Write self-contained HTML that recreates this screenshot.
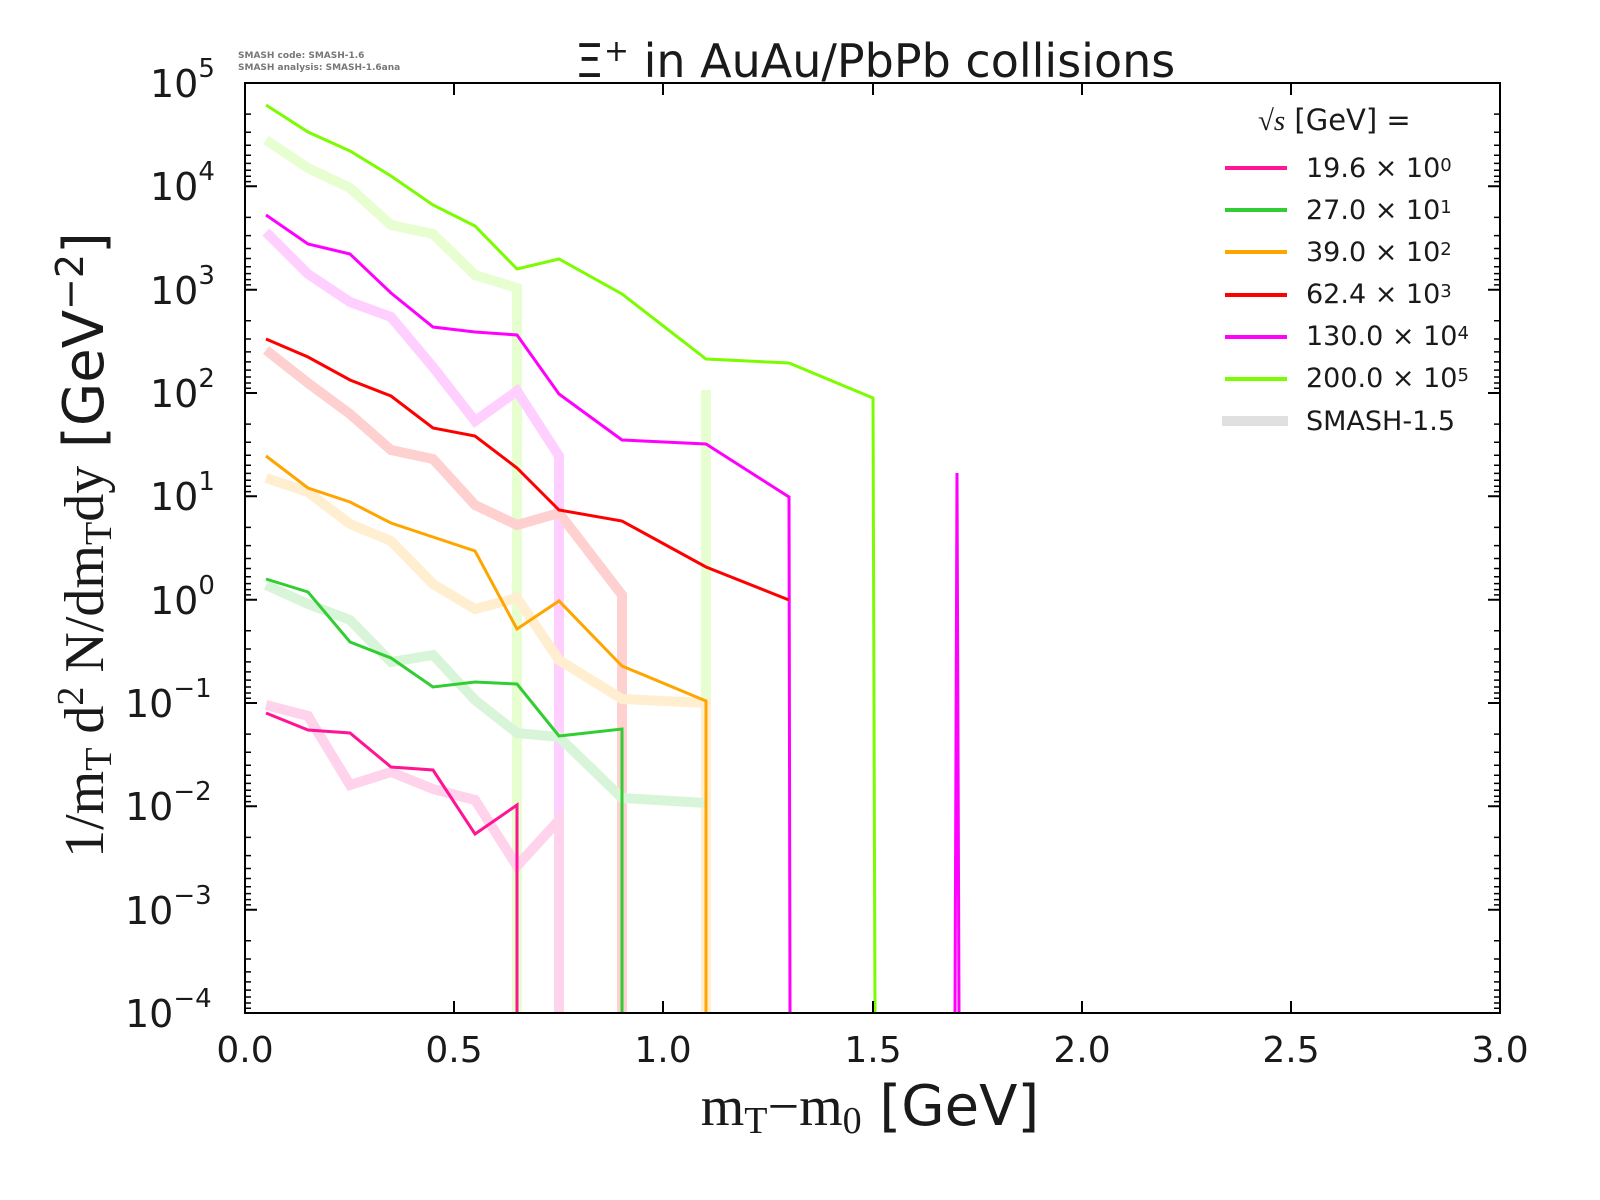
<!DOCTYPE html>
<html><head><meta charset="utf-8"><style>
html,body{margin:0;padding:0;background:#fff;}
svg{display:block;}
text{font-family:"DejaVu Sans","Liberation Sans",sans-serif;fill:#1a1a1a;}
</style></head><body>
<svg width="1600" height="1200" viewBox="0 0 1600 1200" xmlns="http://www.w3.org/2000/svg">
<rect width="1600" height="1200" fill="#fff"/>
<defs><clipPath id="c"><rect x="245" y="83" width="1255" height="930"/></clipPath></defs>
<g clip-path="url(#c)" fill="none" stroke-linejoin="miter">
<g stroke-width="10" opacity="0.18">
<polyline stroke="#7cfc00" points="266,140 308,168 350,188 391,225 433,234 475,275 517,288 517,1013"/>
<polyline stroke="#7cfc00" points="706,390 706,1013"/>
<polyline stroke="#ff00ff" points="266,232 308,274 350,302 391,317 433,367 475,421 517,391 559,456 559,1013"/>
<polyline stroke="#ff0000" points="266,350 308,383 350,414 391,450 433,459 475,505 517,525 559,513 622,595 622,1013"/>
<polyline stroke="#ffa500" points="266,478 308,492 350,524 391,541 433,584 475,609 517,598 559,660 622,699 706,703 706,1013"/>
<polyline stroke="#32cd32" points="266,585 308,604 350,620 391,662 433,655 475,700 517,733 559,737 622,798 706,803"/>
<polyline stroke="#ff1493" points="266,705 308,716 350,785 391,772 433,789 475,800 517,866 559,820 559,1013"/>
</g>
<g stroke-width="3">
<polyline stroke="#7cfc00" points="266,105 308,132 350,151 391,176 433,205 475,226 517,269 559,259 622,294 706,359 789,363 873,398 875,1013"/>
<polyline stroke="#ff00ff" points="266,215 308,244 350,254 391,293 433,327 475,332 517,335 559,394 622,440 706,444 789,497 790,1013"/>
<polyline stroke="#ff00ff" points="955,1013 957,473 959,1013"/>
<polyline stroke="#ff0000" points="266,339 308,357 350,380 391,396 433,428 475,436 517,468 559,510 622,521 706,567 789,600"/>
<polyline stroke="#ffa500" points="266,456 308,488 350,502 391,523 433,537 475,551 517,629 559,601 622,666 706,701 706,1013"/>
<polyline stroke="#32cd32" points="266,579 308,592 350,642 391,658 433,687 475,682 517,684 559,736 622,729 622,1013"/>
<polyline stroke="#ff1493" points="266,713 308,730 350,733 391,767 433,770 475,834 517,805 517,1013"/>
</g>
</g>
<rect x="245" y="83" width="1255" height="930" fill="none" stroke="#000" stroke-width="2"/>
<g stroke="#000" stroke-width="2">
<path d="M454,1013v-12M663,1013v-12M873,1013v-12M1082,1013v-12M1291,1013v-12
M454,83v12M663,83v12M873,83v12M1082,83v12M1291,83v12"/>
<path d="M245,83h12M245,186.3h12M245,289.7h12M245,393h12M245,496.3h12M245,599.7h12M245,703h12M245,806.3h12M245,909.7h12M245,1013h12
M1500,83h-12M1500,186.3h-12M1500,289.7h-12M1500,393h-12M1500,496.3h-12M1500,599.7h-12M1500,703h-12M1500,806.3h-12M1500,909.7h-12M1500,1013h-12"/>
</g>
<g stroke="#000" stroke-width="1.5">
<path id="mn" d="M245,114.1h6M245,132.3h6M245,145.2h6M245,155.2h6M245,163.4h6M245,170.3h6M245,176.3h6M245,181.6h6M1500,114.1h-6M1500,132.3h-6M1500,145.2h-6M1500,155.2h-6M1500,163.4h-6M1500,170.3h-6M1500,176.3h-6M1500,181.6h-6"/>
<use href="#mn" y="103.33"/><use href="#mn" y="206.67"/><use href="#mn" y="310"/><use href="#mn" y="413.33"/>
<use href="#mn" y="516.67"/><use href="#mn" y="620"/><use href="#mn" y="723.33"/><use href="#mn" y="826.67"/>
</g>
<g font-size="38">
<text x="150" y="97">10<tspan font-size="26" dy="-20">5</tspan></text>
<text x="150" y="200">10<tspan font-size="26" dy="-20">4</tspan></text>
<text x="150" y="304">10<tspan font-size="26" dy="-20">3</tspan></text>
<text x="150" y="407">10<tspan font-size="26" dy="-20">2</tspan></text>
<text x="150" y="510">10<tspan font-size="26" dy="-20">1</tspan></text>
<text x="150" y="614">10<tspan font-size="26" dy="-20">0</tspan></text>
<text x="125" y="717">10<tspan font-size="26" dy="-20">−1</tspan></text>
<text x="125" y="820">10<tspan font-size="26" dy="-20">−2</tspan></text>
<text x="125" y="924">10<tspan font-size="26" dy="-20">−3</tspan></text>
<text x="125" y="1027">10<tspan font-size="26" dy="-20">−4</tspan></text>
</g>
<g font-size="36" text-anchor="middle">
<text x="245" y="1062">0.0</text><text x="454" y="1062">0.5</text><text x="663" y="1062">1.0</text>
<text x="873" y="1062">1.5</text><text x="1082" y="1062">2.0</text><text x="1291" y="1062">2.5</text><text x="1500" y="1062">3.0</text>
</g>
<text x="875" y="77" font-size="46" text-anchor="middle">Ξ<tspan font-size="30" dy="-16">+</tspan><tspan dy="16"> in AuAu/PbPb collisions</tspan></text>
<text x="238" y="58" font-size="9" style="fill:#777;font-weight:bold">SMASH code:      SMASH-1.6</text>
<text x="238" y="70" font-size="9" style="fill:#777;font-weight:bold">SMASH analysis: SMASH-1.6ana</text>
<text x="870" y="1125" font-size="56" text-anchor="middle"><tspan style="font-family:'Liberation Serif',serif">m<tspan font-size="38" dy="8">T</tspan><tspan dy="-8">−m</tspan><tspan font-size="38" dy="8">0</tspan></tspan><tspan dy="-8"> [GeV]</tspan></text>
<text transform="translate(103,545) rotate(-90)" font-size="56" text-anchor="middle"><tspan style="font-family:'Liberation Serif',serif">1/m<tspan font-size="38" dy="8">T</tspan><tspan dy="-8"> d</tspan><tspan font-size="38" dy="-20">2</tspan><tspan dy="20"> N/dm</tspan><tspan font-size="38" dy="8">T</tspan><tspan dy="-8">dy</tspan></tspan> [GeV<tspan font-size="38" dy="-20">−2</tspan><tspan dy="20">]</tspan></text>
<text x="1258" y="130" font-size="29"><tspan style="font-family:'Liberation Serif',serif;font-style:italic">√s</tspan>  [GeV] =</text>
<g stroke-width="4">
<line x1="1225" x2="1287" y1="168" y2="168" stroke="#ff1493"/>
<line x1="1225" x2="1287" y1="210" y2="210" stroke="#32cd32"/>
<line x1="1225" x2="1287" y1="252" y2="252" stroke="#ffa500"/>
<line x1="1225" x2="1287" y1="295" y2="295" stroke="#ff0000"/>
<line x1="1225" x2="1287" y1="337" y2="337" stroke="#ff00ff"/>
<line x1="1225" x2="1287" y1="379" y2="379" stroke="#7cfc00"/>
<line x1="1222" x2="1288" y1="421" y2="421" stroke="#e0e0e0" stroke-width="10"/>
</g>
<g font-size="27">
<text x="1306" y="177">19.6 × 10<tspan font-size="18" dy="-6">0</tspan></text>
<text x="1306" y="219">27.0 × 10<tspan font-size="18" dy="-6">1</tspan></text>
<text x="1306" y="261">39.0 × 10<tspan font-size="18" dy="-6">2</tspan></text>
<text x="1306" y="303">62.4 × 10<tspan font-size="18" dy="-6">3</tspan></text>
<text x="1306" y="345">130.0 × 10<tspan font-size="18" dy="-6">4</tspan></text>
<text x="1306" y="387">200.0 × 10<tspan font-size="18" dy="-6">5</tspan></text>
<text x="1306" y="430">SMASH-1.5</text>
</g>
</svg>
</body></html>
